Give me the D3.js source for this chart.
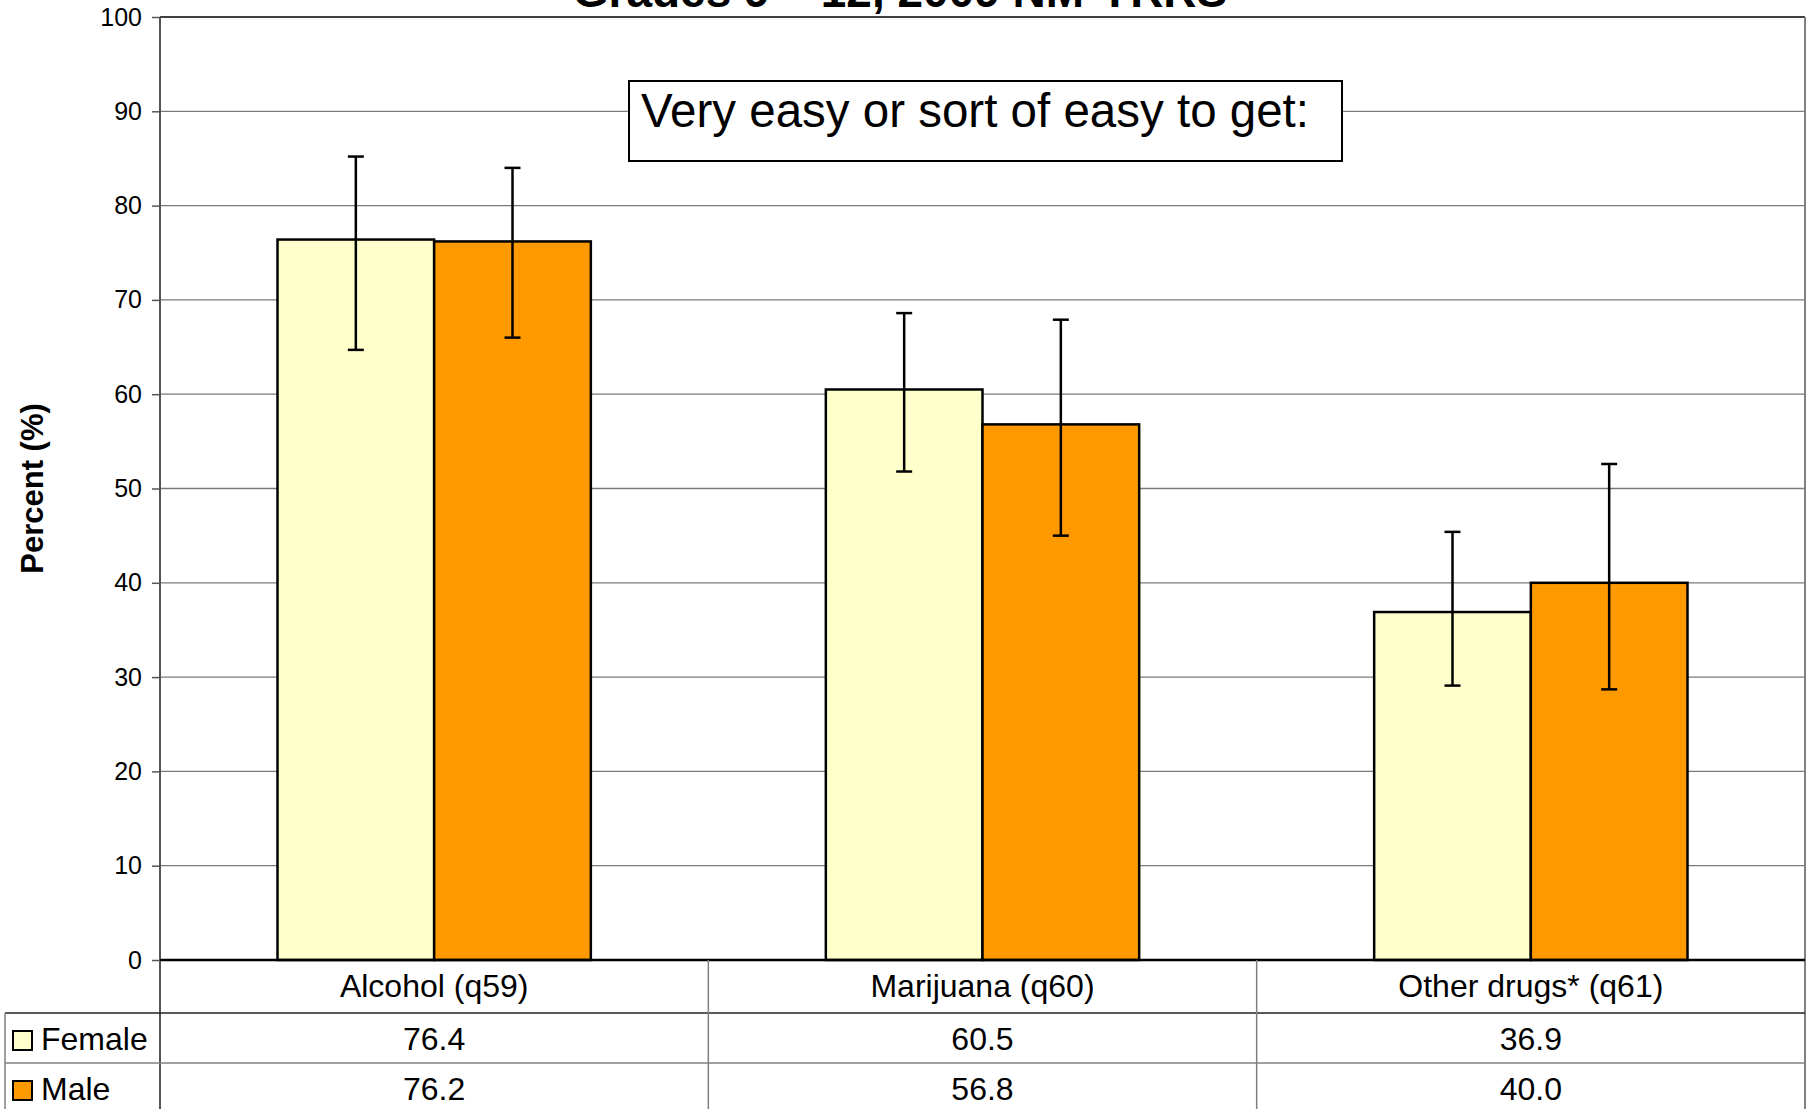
<!DOCTYPE html>
<html>
<head>
<meta charset="utf-8">
<script src="https://cdn.jsdelivr.net/npm/d3@7"></script>
<style>
  body { margin: 0; background: #fff; }
  svg { display: block; font-family: "Liberation Sans", Arial, sans-serif; }
</style>
</head>
<body>
<div id="chart_container"></div>
<script>
// values
var categories = ["Alcohol (q59)", "Marijuana (q60)", "Other drugs* (q61)"];
var seriesNames = ["Female", "Male"];
var female = [76.4, 60.5, 36.9];
var male = [76.2, 56.8, 40.0];
var femaleLow = [64.7, 51.8, 29.1];
var femaleHigh = [85.2, 68.6, 45.4];
var maleLow = [66.0, 45.0, 28.7];
var maleHigh = [84.0, 67.9, 52.6];
var yTicks = [0, 10, 20, 30, 40, 50, 60, 70, 80, 90, 100];
var colors = ["#FFFFCC", "#FF9900"];

var chart_width = 1813;
var chart_height = 1109;
var margin = {top: 17, right: 8, bottom: 149, left: 160};
var width = chart_width - margin.left - margin.right;
var height = chart_height - margin.top - margin.bottom;

var svg = d3.select("#chart_container")
    .append("svg")
    .attr("width", chart_width)
    .attr("height", chart_height);

// title (only its last line shows, cut at the top)
svg.append("text")
    .attr("x", 900)
    .attr("y", 7)
    .attr("text-anchor", "middle")
    .style("font-size", "46px")
    .style("font-weight", "bold")
    .text("Grades 9 \u2013 12, 2009 NM-YRRS");

var plot = svg.append("g")
    .attr("transform", "translate(" + margin.left + "," + margin.top + ")");

var x0 = d3.scaleBand().domain(categories).range([0, width]);
var barW = x0.bandwidth() / 3.5;
var x1 = d3.scaleBand().domain(seriesNames)
    .range([barW * 0.75, x0.bandwidth() - barW * 0.75]);
var y = d3.scaleLinear().domain([0, 100]).range([height, 0]);

// gridlines
plot.selectAll("line.grid")
    .data(yTicks.filter(function(d) { return d > 0 && d < 100; }))
    .enter()
    .append("line")
    .attr("class", "grid")
    .attr("x1", 0).attr("x2", width)
    .attr("y1", function(d) { return y(d); })
    .attr("y2", function(d) { return y(d); })
    .style("stroke", "#7a7a7a")
    .style("stroke-width", 1.3);

// plot border: top black, right grey
plot.append("line")
    .attr("x1", 0).attr("x2", width)
    .attr("y1", y(100)).attr("y2", y(100))
    .style("stroke", "#000").style("stroke-width", 1.5);
plot.append("line")
    .attr("x1", width).attr("x2", width)
    .attr("y1", 0).attr("y2", chart_height - margin.top)
    .style("stroke", "#808080").style("stroke-width", 2);

// Y axis
var yAxis = d3.axisLeft(y).tickValues(yTicks).tickSize(8).tickPadding(10);
var yg = plot.append("g").call(yAxis);
yg.select(".domain").remove();
yg.selectAll(".tick line").style("stroke", "#555").style("stroke-width", 1.5);
yg.selectAll(".tick text")
    .style("font-size", "25px")
    .style("font-family", "Liberation Sans, Arial, sans-serif")
    .attr("fill", "#000");
plot.append("line")
    .attr("x1", 0).attr("x2", 0)
    .attr("y1", 0).attr("y2", chart_height - margin.top)
    .style("stroke", "#555").style("stroke-width", 2);

// Y label
svg.append("text")
    .attr("transform", "translate(43," + (margin.top + height / 2) + ") rotate(-90)")
    .attr("text-anchor", "middle")
    .style("font-size", "31px")
    .style("font-weight", "bold")
    .text("Percent (%)");

// bars
var rows = [female, male];
var lows = [femaleLow, maleLow];
var highs = [femaleHigh, maleHigh];

seriesNames.forEach(function(s, si) {
    var g = plot.append("g");
    g.selectAll("rect")
        .data(categories)
        .enter()
        .append("rect")
        .attr("x", function(d) { return x0(d) + x1(s); })
        .attr("y", function(d, i) { return y(rows[si][i]); })
        .attr("width", x1.bandwidth())
        .attr("height", function(d, i) { return height - y(rows[si][i]); })
        .attr("fill", colors[si])
        .style("stroke", "#000")
        .style("stroke-width", 2.5);
});

// error bars
seriesNames.forEach(function(s, si) {
    var g = plot.append("g");
    categories.forEach(function(c, i) {
        var cx = x0(c) + x1(s) + x1.bandwidth() / 2;
        g.append("line")
            .attr("x1", cx).attr("x2", cx)
            .attr("y1", y(highs[si][i])).attr("y2", y(lows[si][i]))
            .style("stroke", "#000").style("stroke-width", 2.5);
        [highs[si][i], lows[si][i]].forEach(function(v) {
            g.append("line")
                .attr("x1", cx - 8).attr("x2", cx + 8)
                .attr("y1", y(v)).attr("y2", y(v))
                .style("stroke", "#000").style("stroke-width", 2.5);
        });
    });
});

// zero line
plot.append("line")
    .attr("x1", 0).attr("x2", width)
    .attr("y1", y(0)).attr("y2", y(0))
    .style("stroke", "#000").style("stroke-width", 2.5);

// annotation box
var note = svg.append("g");
note.append("rect")
    .attr("x", 629).attr("y", 81)
    .attr("width", 713).attr("height", 80)
    .attr("fill", "#fff")
    .style("stroke", "#000").style("stroke-width", 2);
note.append("text")
    .attr("x", 641).attr("y", 127)
    .style("font-size", "47.5px")
    .text("Very easy or sort of easy to get:");

// data table
var tableTop = margin.top + height;
var rowH = [53, 50, 50];
var row1 = tableTop + rowH[0];
var row2 = row1 + rowH[1];

svg.append("line")
    .attr("x1", 5).attr("x2", margin.left + width)
    .attr("y1", row1).attr("y2", row1)
    .style("stroke", "#222").style("stroke-width", 1.5);
svg.append("line")
    .attr("x1", 5).attr("x2", margin.left + width)
    .attr("y1", row2).attr("y2", row2)
    .style("stroke", "#808080").style("stroke-width", 1.5);
svg.append("line")
    .attr("x1", 5).attr("x2", 5)
    .attr("y1", row1).attr("y2", chart_height)
    .style("stroke", "#808080").style("stroke-width", 1.5);

svg.selectAll("line.coldiv")
    .data(categories.slice(1))
    .enter()
    .append("line")
    .attr("class", "coldiv")
    .attr("x1", function(d) { return margin.left + x0(d); })
    .attr("x2", function(d) { return margin.left + x0(d); })
    .attr("y1", tableTop).attr("y2", chart_height)
    .style("stroke", "#808080").style("stroke-width", 1.5);

svg.selectAll("text.cat")
    .data(categories)
    .enter()
    .append("text")
    .attr("class", "cat")
    .attr("x", function(d) { return margin.left + x0(d) + x0.bandwidth() / 2; })
    .attr("y", tableTop + 37)
    .attr("text-anchor", "middle")
    .style("font-size", "32px")
    .text(function(d) { return d; });

seriesNames.forEach(function(s, si) {
    var base = (si === 0 ? row1 : row2) + 37;
    svg.selectAll("text.val" + si)
        .data(rows[si])
        .enter()
        .append("text")
        .attr("class", "val" + si)
        .attr("x", function(d, i) { return margin.left + x0(categories[i]) + x0.bandwidth() / 2; })
        .attr("y", base)
        .attr("text-anchor", "middle")
        .style("font-size", "32px")
        .text(function(d) { return d.toFixed(1); });

    svg.append("rect")
        .attr("x", 13).attr("y", base - 19)
        .attr("width", 19).attr("height", 19)
        .attr("fill", colors[si])
        .style("stroke", "#000").style("stroke-width", 2);
    svg.append("text")
        .attr("x", 41).attr("y", base)
        .style("font-size", "32px")
        .text(s);
});
</script>
</body>
</html>
